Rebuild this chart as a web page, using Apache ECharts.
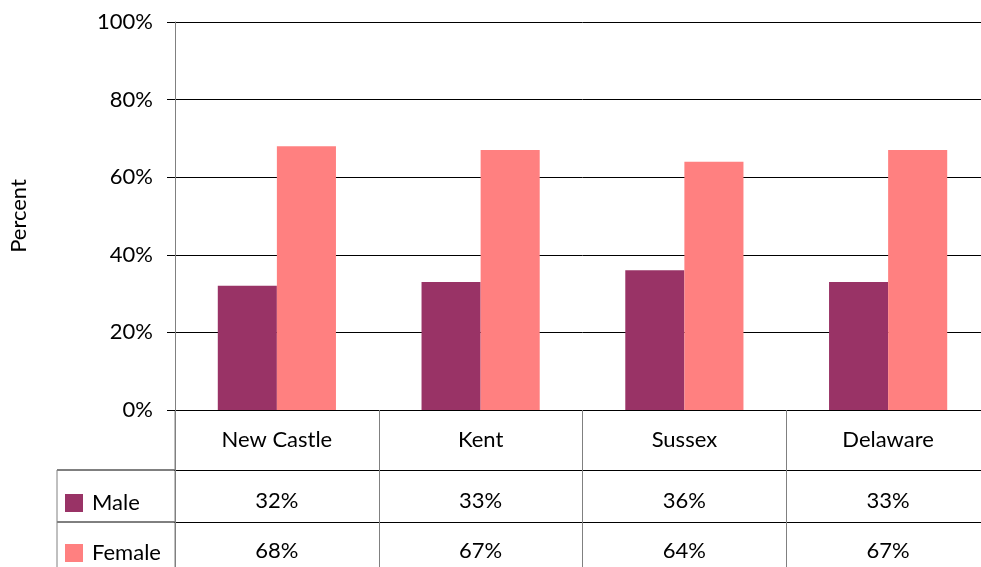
<!DOCTYPE html>
<html>
<head>
<meta charset="utf-8">
<script src="https://cdn.jsdelivr.net/npm/echarts@6/dist/echarts.min.js"></script>
<style>
  html, body { margin: 0; padding: 0; background: #fff; overflow: hidden; }
  /* the plot area runs a little past the right edge of the picture */
  #chart { width: 990px; height: 567px; }
</style>
</head>
<body>
<div id="chart"></div>
<script>
// data
var categories = ['New Castle', 'Kent', 'Sussex', 'Delaware'];
var male = [32, 33, 36, 33];
var female = [68, 67, 64, 67];
var yTicks = [0, 20, 40, 60, 80, 100];

var FONT = 'Lato';
var FS = 22;
var gridLeft = 175, gridTop = 22, gridRight = 0, gridBottom = 157;
var row1 = 60, row2 = 112; // table row offsets under the axis
var bottomY = 567 - gridBottom;

var chart = echarts.init(document.getElementById('chart'), null, {renderer: 'canvas'});

function tableAxis(offset, values, margin, tickLen) {
  return {
    type: 'category',
    data: categories,
    position: 'bottom',
    offset: offset,
    axisLine: {show: true, lineStyle: {color: '#000', width: 1}},
    axisTick: {show: true, length: tickLen, lineStyle: {color: '#808080', width: 1}},
    axisLabel: {
      margin: margin,
      fontSize: FS,
      fontFamily: FONT,
      color: '#000',
      formatter: function (v, i) { return values ? values[i] + '%' : v; }
    }
  };
}

function legendRow(name, top) {
  return {
    orient: 'vertical',
    left: 65,
    top: top,
    padding: 0,
    itemWidth: 18,
    itemHeight: 18,
    icon: 'rect',
    textStyle: {fontSize: FS, fontFamily: FONT, color: '#000', padding: [0, 0, 0, 4]},
    data: [name]
  };
}

chart.setOption({
  animation: false,
  textStyle: {fontFamily: FONT},
  grid: {left: gridLeft, top: gridTop, right: gridRight, bottom: gridBottom},
  legend: [legendRow('Male', 492), legendRow('Female', 542)],
  xAxis: [
    tableAxis(0, null, 19, 60),
    tableAxis(row1, male, 20, 52),
    tableAxis(row2, female, 18, 50)
  ],
  yAxis: {
    type: 'value',
    min: yTicks[0],
    max: yTicks[yTicks.length - 1],
    interval: 20,
    name: 'Percent',
    nameLocation: 'middle',
    nameRotate: 90,
    nameGap: 145,
    nameTextStyle: {fontSize: FS, fontFamily: FONT, color: '#000'},
    axisLine: {show: true, lineStyle: {color: '#808080'}},
    axisTick: {show: true, length: 8, lineStyle: {color: '#000'}},
    axisLabel: {margin: 22, fontSize: FS, fontFamily: FONT, color: '#000', formatter: '{value}%'},
    splitLine: {lineStyle: {color: '#000', width: 1}}
  },
  series: [
    {name: 'Male', type: 'bar', data: male, itemStyle: {color: '#993366'},
     barGap: '0%', barCategoryGap: '42%'},
    {name: 'Female', type: 'bar', data: female, itemStyle: {color: '#FF8080'}}
  ],
  graphic: [
    // left part of the data table (legend column)
    {type: 'line', shape: {x1: 57, y1: bottomY + row1, x2: gridLeft, y2: bottomY + row1},
     style: {stroke: '#000', lineWidth: 1}},
    {type: 'line', shape: {x1: 57, y1: bottomY + row2, x2: gridLeft, y2: bottomY + row2},
     style: {stroke: '#000', lineWidth: 1}},
    {type: 'line', shape: {x1: 57, y1: bottomY + row1, x2: 57, y2: 567},
     style: {stroke: '#808080', lineWidth: 1}},
    {type: 'line', shape: {x1: gridLeft, y1: bottomY, x2: gridLeft, y2: 567},
     style: {stroke: '#808080', lineWidth: 1}}
  ]
});
</script>
</body>
</html>
